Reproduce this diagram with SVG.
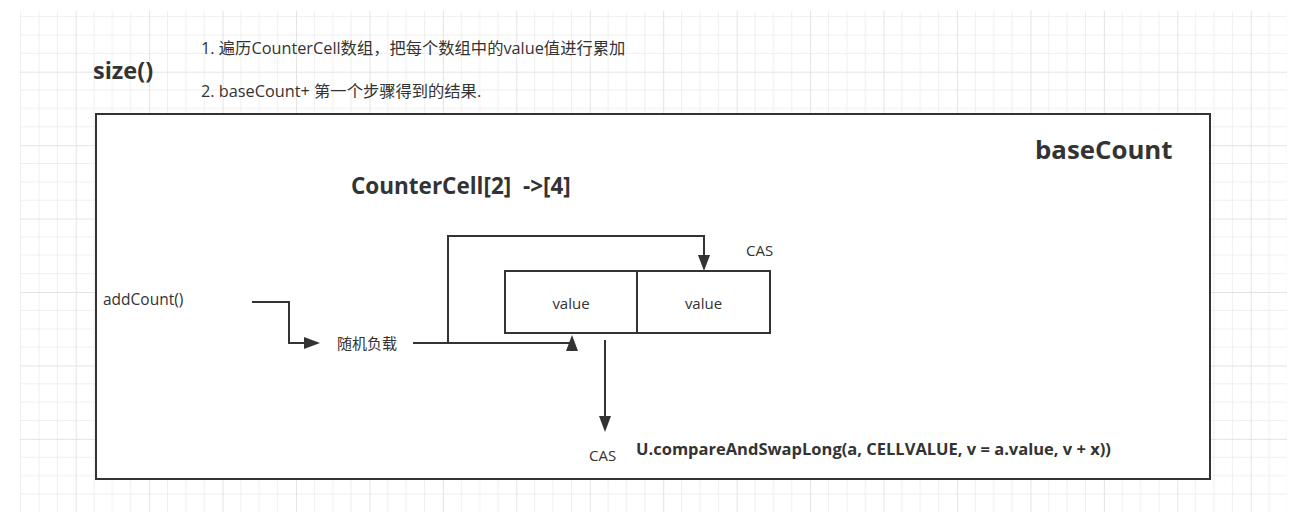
<svg xmlns="http://www.w3.org/2000/svg" width="1302" height="520" viewBox="0 0 1302 520">
<defs>
<pattern id="grid" patternUnits="userSpaceOnUse" x="2.26" y="-1.74" width="73.44" height="73.44">
<path d="M18.36,0V73.44M36.72,0V73.44M55.08,0V73.44M0,18.36H73.44M0,36.72H73.44M0,55.08H73.44" stroke="#efefef" stroke-width="1" fill="none"/>
<path d="M0.5,0V73.44M0,0.5H73.44" stroke="#e3e3e3" stroke-width="1" fill="none"/>
</pattern>
<marker id="arr" markerUnits="userSpaceOnUse" markerWidth="16" markerHeight="12" viewBox="0 0 16 12" refX="12" refY="6" orient="auto">
<path d="M0,0L16,6L0,12z" fill="#333"/>
</marker>
</defs>
<style>
.t{font-family:"Open Sans","Noto Sans CJK SC",sans-serif;fill:#333;font-size:15px}
.b{font-weight:bold}
.s16{font-size:16.3px}
.box{fill:#fff;stroke:#333;stroke-width:2}
.ln{fill:none;stroke:#333;stroke-width:2}
</style>
<rect width="1302" height="520" fill="#fff"/>
<rect x="20" y="11" width="1267" height="501" fill="url(#grid)"/>

<g id="size-label"><text class="t b" x="93" y="79" style="font-size:23.5px">size()</text></g>
<g id="step1"><text class="t s16" x="201" y="54">1. 遍历CounterCell数组，把每个数组中的value值进行累加</text></g>
<g id="step2"><text class="t s16" x="201" y="97">2. baseCount+ 第一个步骤得到的结果.</text></g>

<g id="baseCount">
<rect class="box" x="96" y="114" width="1114" height="365"/>
<text class="t b" x="1035" y="159" style="font-size:25.8px">baseCount</text>
</g>
<g id="countercell-title"><text class="t b" x="351" y="194" style="font-size:22.5px" xml:space="preserve">CounterCell[2]  -&gt;[4]</text></g>
<g id="addCount"><text class="t" x="103" y="305" style="font-size:15.5px">addCount()</text></g>
<g id="random"><text class="t" x="337" y="349">随机负载</text></g>
<g id="cell1">
<rect class="box" x="505" y="271" width="132" height="62"/>
<text class="t" x="571" y="309" text-anchor="middle">value</text>
</g>
<g id="cell2">
<rect class="box" x="637" y="271" width="133" height="62"/>
<text class="t" x="703.5" y="309" text-anchor="middle">value</text>
</g>
<g id="cas-top"><text class="t" x="746" y="256">CAS</text></g>
<g id="cas-bottom"><text class="t" x="589" y="461">CAS</text></g>
<g id="cas-code"><text class="t b" x="636" y="455" style="font-size:16.5px">U.compareAndSwapLong(a, CELLVALUE, v = a.value, v + x))</text></g>

<g id="connectors">
<path class="ln" d="M252,302H289V343H316" marker-end="url(#arr)"/>
<path class="ln" d="M413,343H448V236H704V267" marker-end="url(#arr)"/>
<path class="ln" d="M413,343H572V339" marker-end="url(#arr)"/>
<path class="ln" d="M605,340V428" marker-end="url(#arr)"/>
</g>
</svg>
